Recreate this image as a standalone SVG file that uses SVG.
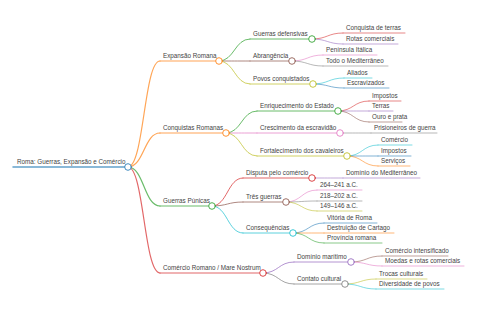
<svg xmlns="http://www.w3.org/2000/svg" width="480" height="320" viewBox="0 0 480 320">
<style>
text{font-family:"Liberation Sans",Arial,sans-serif;font-size:6.3px;fill:#444}
line,path,circle{fill:none;stroke-linecap:round}
circle{fill:#fff;stroke-width:1;stroke-opacity:0.85}
.l0{stroke-width:1.5}.l1{stroke-width:1.2}.l2{stroke-width:1}.l3{stroke-width:0.8}
.c0{stroke:#1f77b4}.c1{stroke:#ff7f0e}.c2{stroke:#2ca02c}.c3{stroke:#d62728}.c4{stroke:#9467bd}
.c5{stroke:#8c564b}.c6{stroke:#e377c2}.c7{stroke:#7f7f7f}.c8{stroke:#bcbd22}.c9{stroke:#17becf}
#links path,line{stroke-opacity:0.7}
</style>
<rect width="480" height="320" fill="#fff"/>
<g id="links">
<path class="l1 c1" d="M128,167 C144,167 144,61 160,61"/>
<path class="l1 c1" d="M128,167 C144,167 144,133 160,133"/>
<path class="l1 c2" d="M128,167 C144,167 144,206 160,206"/>
<path class="l1 c3" d="M128,167 C144,167 144,273 160,273"/>
<path class="l2 c2" d="M219,61 C234.5,61 234.5,39 250,39"/>
<path class="l2 c5" d="M219,61 C234.5,61 234.5,61 250,61"/>
<path class="l2 c8" d="M219,61 C234.5,61 234.5,84 250,84"/>
<path class="l3 c3" d="M312,39 C327.5,39 327.5,33 343,33"/>
<path class="l3 c4" d="M312,39 C327.5,39 327.5,44 343,44"/>
<path class="l3 c6" d="M292,61 C307.5,61 307.5,55 323,55"/>
<path class="l3 c7" d="M292,61 C307.5,61 307.5,66 323,66"/>
<path class="l3 c9" d="M313,84 C328.5,84 328.5,78 344,78"/>
<path class="l3 c0" d="M313,84 C328.5,84 328.5,88 344,88"/>
<path class="l2 c2" d="M226,133 C241.5,133 241.5,111 257,111"/>
<path class="l2 c6" d="M226,133 C241.5,133 241.5,133 257,133"/>
<path class="l2 c8" d="M226,133 C241.5,133 241.5,156 257,156"/>
<path class="l3 c3" d="M338,111 C353.5,111 353.5,101 369,101"/>
<path class="l3 c4" d="M338,111 C353.5,111 353.5,111 369,111"/>
<path class="l3 c5" d="M338,111 C353.5,111 353.5,122 369,122"/>
<path class="l3 c7" d="M340,133 C355.5,133 355.5,133 371,133"/>
<path class="l3 c9" d="M347,156 C362.5,156 362.5,145 378,145"/>
<path class="l3 c0" d="M347,156 C362.5,156 362.5,156 378,156"/>
<path class="l3 c1" d="M347,156 C362.5,156 362.5,166 378,166"/>
<path class="l2 c3" d="M212,206 C227.5,206 227.5,178 243,178"/>
<path class="l2 c5" d="M212,206 C227.5,206 227.5,202 243,202"/>
<path class="l2 c9" d="M212,206 C227.5,206 227.5,233 243,233"/>
<path class="l3 c4" d="M312,178 C327.5,178 327.5,178 343,178"/>
<path class="l3 c6" d="M286,202 C301.5,202 301.5,190 317,190"/>
<path class="l3 c7" d="M286,202 C301.5,202 301.5,201 317,201"/>
<path class="l3 c8" d="M286,202 C301.5,202 301.5,211 317,211"/>
<path class="l3 c0" d="M293,233 C308.5,233 308.5,223 324,223"/>
<path class="l3 c1" d="M293,233 C308.5,233 308.5,233 324,233"/>
<path class="l3 c2" d="M293,233 C308.5,233 308.5,243 324,243"/>
<path class="l2 c4" d="M263,273 C278.5,273 278.5,262 294,262"/>
<path class="l2 c7" d="M263,273 C278.5,273 278.5,284 294,284"/>
<path class="l3 c5" d="M351,262 C366.5,262 366.5,256 382,256"/>
<path class="l3 c6" d="M351,262 C366.5,262 366.5,266 382,266"/>
<path class="l3 c8" d="M345,284 C360.5,284 360.5,279 376,279"/>
<path class="l3 c9" d="M345,284 C360.5,284 360.5,289 376,289"/>
</g>
<g id="root"><line class="l0 c0" x1="13" y1="167" x2="128" y2="167"/><text x="17" y="164">Roma: Guerras, Expansão e Comércio</text><circle class="c0" cx="128" cy="167" r="3.3"/></g>
<g id="expansao"><line class="l1 c1" x1="160" y1="61" x2="219" y2="61"/><text x="163" y="58">Expansão Romana</text><circle class="c1" cx="219" cy="61" r="3.3"/></g>
<g id="guerras-defensivas"><line class="l2 c2" x1="250" y1="39" x2="312" y2="39"/><text x="253" y="36">Guerras defensivas</text><circle class="c2" cx="312" cy="39" r="3.3"/></g>
<g id="conquista-terras"><line class="l3 c3" x1="343" y1="33" x2="405" y2="33"/><text x="346" y="30">Conquista de terras</text></g>
<g id="rotas-comerciais"><line class="l3 c4" x1="343" y1="44" x2="398" y2="44"/><text x="346" y="41">Rotas comerciais</text></g>
<g id="abrangencia"><line class="l2 c5" x1="250" y1="61" x2="292" y2="61"/><text x="253" y="58">Abrangência</text><circle class="c5" cx="292" cy="61" r="3.3"/></g>
<g id="peninsula"><line class="l3 c6" x1="323" y1="55" x2="377" y2="55"/><text x="326" y="52">Península Itálica</text></g>
<g id="mediterraneo"><line class="l3 c7" x1="323" y1="66" x2="388" y2="66"/><text x="326" y="63">Todo o Mediterrâneo</text></g>
<g id="povos"><line class="l2 c8" x1="250" y1="84" x2="313" y2="84"/><text x="253" y="81">Povos conquistados</text><circle class="c8" cx="313" cy="84" r="3.3"/></g>
<g id="aliados"><line class="l3 c9" x1="344" y1="78" x2="372" y2="78"/><text x="347" y="75">Aliados</text></g>
<g id="escravizados"><line class="l3 c0" x1="344" y1="88" x2="389" y2="88"/><text x="347" y="85">Escravizados</text></g>
<g id="conquistas"><line class="l1 c1" x1="160" y1="133" x2="226" y2="133"/><text x="163" y="130">Conquistas Romanas</text><circle class="c1" cx="226" cy="133" r="3.3"/></g>
<g id="enriquecimento"><line class="l2 c2" x1="257" y1="111" x2="338" y2="111"/><text x="260" y="108">Enriquecimento do Estado</text><circle class="c2" cx="338" cy="111" r="3.3"/></g>
<g id="impostos1"><line class="l3 c3" x1="369" y1="101" x2="401" y2="101"/><text x="372" y="98">Impostos</text></g>
<g id="terras"><line class="l3 c4" x1="369" y1="111" x2="393" y2="111"/><text x="372" y="108">Terras</text></g>
<g id="ouro"><line class="l3 c5" x1="369" y1="122" x2="402" y2="122"/><text x="372" y="119">Ouro e prata</text></g>
<g id="crescimento"><line class="l2 c6" x1="257" y1="133" x2="340" y2="133"/><text x="260" y="130">Crescimento da escravidão</text><circle class="c6" cx="340" cy="133" r="3.3"/></g>
<g id="prisioneiros"><line class="l3 c7" x1="371" y1="133" x2="437" y2="133"/><text x="374" y="130">Prisioneiros de guerra</text></g>
<g id="fortalecimento"><line class="l2 c8" x1="257" y1="156" x2="347" y2="156"/><text x="260" y="153">Fortalecimento dos cavaleiros</text><circle class="c8" cx="347" cy="156" r="3.3"/></g>
<g id="comercio1"><line class="l3 c9" x1="378" y1="145" x2="412" y2="145"/><text x="381" y="142">Comércio</text></g>
<g id="impostos2"><line class="l3 c0" x1="378" y1="156" x2="411" y2="156"/><text x="381" y="153">Impostos</text></g>
<g id="servicos"><line class="l3 c1" x1="378" y1="166" x2="410" y2="166"/><text x="381" y="163">Serviços</text></g>
<g id="punicas"><line class="l1 c2" x1="160" y1="206" x2="212" y2="206"/><text x="163" y="203">Guerras Púnicas</text><circle class="c2" cx="212" cy="206" r="3.3"/></g>
<g id="disputa"><line class="l2 c3" x1="243" y1="178" x2="312" y2="178"/><text x="246" y="175">Disputa pelo comércio</text><circle class="c3" cx="312" cy="178" r="3.3"/></g>
<g id="dominio-med"><line class="l3 c4" x1="343" y1="178" x2="420" y2="178"/><text x="346" y="175">Domínio do Mediterrâneo</text></g>
<g id="tres-guerras"><line class="l2 c5" x1="243" y1="202" x2="286" y2="202"/><text x="246" y="199">Três guerras</text><circle class="c5" cx="286" cy="202" r="3.3"/></g>
<g id="g1"><line class="l3 c6" x1="317" y1="190" x2="362" y2="190"/><text x="320" y="187">264–241 a.C.</text></g>
<g id="g2"><line class="l3 c7" x1="317" y1="201" x2="362" y2="201"/><text x="320" y="198">218–202 a.C.</text></g>
<g id="g3"><line class="l3 c8" x1="317" y1="211" x2="362" y2="211"/><text x="320" y="208">149–146 a.C.</text></g>
<g id="consequencias"><line class="l2 c9" x1="243" y1="233" x2="293" y2="233"/><text x="246" y="230">Consequências</text><circle class="c9" cx="293" cy="233" r="3.3"/></g>
<g id="vitoria"><line class="l3 c0" x1="324" y1="223" x2="377" y2="223"/><text x="327" y="220">Vitória de Roma</text></g>
<g id="destruicao"><line class="l3 c1" x1="324" y1="233" x2="394" y2="233"/><text x="327" y="230">Destruição de Cartago</text></g>
<g id="provincia"><line class="l3 c2" x1="324" y1="243" x2="382" y2="243"/><text x="327" y="240">Província romana</text></g>
<g id="comercio-romano"><line class="l1 c3" x1="160" y1="273" x2="263" y2="273"/><text x="163" y="270">Comércio Romano / Mare Nostrum</text><circle class="c3" cx="263" cy="273" r="3.3"/></g>
<g id="dominio-maritimo"><line class="l2 c4" x1="294" y1="262" x2="351" y2="262"/><text x="297" y="259">Domínio marítimo</text><circle class="c4" cx="351" cy="262" r="3.3"/></g>
<g id="comercio-int"><line class="l3 c5" x1="382" y1="256" x2="448" y2="256"/><text x="385" y="253">Comércio intensificado</text></g>
<g id="moedas"><line class="l3 c6" x1="382" y1="266" x2="464" y2="266"/><text x="385" y="263">Moedas e rotas comerciais</text></g>
<g id="contato"><line class="l2 c7" x1="294" y1="284" x2="345" y2="284"/><text x="297" y="281">Contato cultural</text><circle class="c7" cx="345" cy="284" r="3.3"/></g>
<g id="trocas"><line class="l3 c8" x1="376" y1="279" x2="427" y2="279"/><text x="379" y="276">Trocas culturais</text></g>
<g id="diversidade"><line class="l3 c9" x1="376" y1="289" x2="444" y2="289"/><text x="379" y="286">Diversidade de povos</text></g>
</svg>
